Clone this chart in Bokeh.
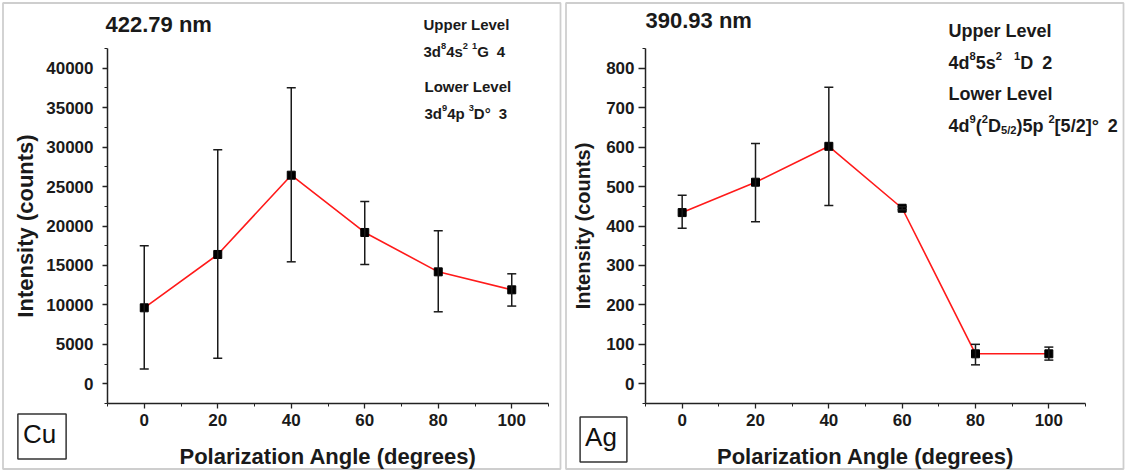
from bokeh.plotting import figure
from bokeh.models import (ColumnDataSource, Whisker, Label, TeeHead, Range1d,
                          SingleIntervalTicker, LinearAxis, BoxAnnotation)
from bokeh.layouts import row
from bokeh.embed import file_html
from bokeh.resources import INLINE

# ---------------- data ----------------
angles = [0, 20, 40, 60, 80, 100]

cu_intensity = [9630, 16390, 26440, 19180, 14190, 11910]
cu_lower = [1860, 3250, 15460, 15120, 9125, 9850]
cu_upper = [17490, 29650, 37510, 23100, 19390, 13940]

ag_intensity = [434, 511, 602, 445, 76, 76]
ag_lower = [394, 411, 452, 441, 48, 60]
ag_upper = [478, 609, 752, 449, 100, 93]

x_label = "Polarization Angle (degrees)"
y_label = "Intensity (counts)"

FONT = "Liberation Sans"
H = 472
W = 563
AX_TOP = 48       # page px of top of the y axis
AX_BOTTOM = 403   # page px of the x axis

# Arial-bold advance widths (em)
AW = {"0": .556, "1": .556, "2": .556, "3": .556, "4": .556, "5": .556, "6": .556,
      "7": .556, "8": .556, "9": .556, "d": .611, "s": .556, "p": .611, "G": .778,
      "D": .722, " ": .278, "(": .333, ")": .333, "[": .333, "]": .333, "/": .278,
      "°": .4, "U": .722, "e": .556, "r": .389, "L": .611, "v": .556, "l": .278,
      "o": .611, "w": .778}


def tw(s, size):
    return sum(AW.get(c, .556) for c in s) * size


class Panel:
    def __init__(self, page_left, ax_left, ax_right, x0, x1, y0, y1, y_interval,
                 intensity, lower, upper, ytick_out, ytick_standoff, ylab_size, ylab_standoff):
        self.pl = page_left
        self.kx = (ax_right - ax_left) / (x1 - x0)
        self.ax_left = ax_left
        self.x0 = x0
        self.ky = (AX_BOTTOM - AX_TOP) / (y1 - y0)
        self.y0 = y0
        xs, xe = self.dx(page_left), self.dx(page_left + W)
        ye, ys = self.dy(0), self.dy(H)
        p = figure(width=W, height=H, x_range=Range1d(xs, xe), y_range=Range1d(ys, ye),
                   output_backend="svg", toolbar_location=None,
                   x_axis_type=None, y_axis_type=None,
                   min_border_left=0, min_border_right=0, min_border_top=0, min_border_bottom=0)
        self.p = p
        p.outline_line_color = None
        p.xgrid.visible = False
        p.ygrid.visible = False
        p.background_fill_color = "white"
        p.border_fill_color = "white"

        xa = LinearAxis(fixed_location=y0, bounds=(x0, x1),
                        ticker=SingleIntervalTicker(interval=20, num_minor_ticks=2),
                        axis_label=x_label)
        ya = LinearAxis(fixed_location=x0, bounds=(y0, y1),
                        ticker=SingleIntervalTicker(interval=y_interval, num_minor_ticks=2),
                        axis_label=y_label)
        for ax in (xa, ya):
            ax.axis_line_color = "#222222"
            ax.axis_line_width = 1.5
            ax.major_tick_line_color = "#222222"
            ax.minor_tick_line_color = "#222222"
            ax.major_tick_line_width = 1.3
            ax.minor_tick_line_width = 1.0
            ax.major_tick_in = 0
            ax.minor_tick_in = 0
            ax.minor_tick_out = 3
            ax.major_label_text_font = FONT
            ax.major_label_text_font_style = "bold"
            ax.major_label_text_font_size = "17px"
            ax.major_label_text_color = "#1a1a1a"
            ax.axis_label_text_font = FONT
            ax.axis_label_text_font_style = "bold"
            ax.axis_label_text_color = "#1a1a1a"
        xa.major_tick_out = 5
        xa.major_label_standoff = 5
        xa.axis_label_text_font_size = "22px"
        xa.axis_label_standoff = 15
        ya.major_tick_out = ytick_out
        ya.major_label_standoff = ytick_standoff
        ya.axis_label_text_font_size = f"{ylab_size}px"
        ya.axis_label_standoff = ylab_standoff
        p.add_layout(xa, "below")
        p.add_layout(ya, "left")

        # panel border
        p.add_layout(BoxAnnotation(left=self.dx(page_left + 2.5), right=self.dx(page_left + W - 3),
                                   top=self.dy(2.5), bottom=self.dy(H - 3.5),
                                   fill_color=None, line_color="#5e5e5e", line_width=1.8,
                                   level="underlay"))

        src = ColumnDataSource(dict(x=angles, y=intensity, lo=lower, hi=upper))
        w = Whisker(source=src, base="x", upper="hi", lower="lo", level="glyph",
                    line_color="#1a1a1a", line_width=1.5,
                    upper_head=TeeHead(size=9, line_color="#1a1a1a", line_width=1.5),
                    lower_head=TeeHead(size=9, line_color="#1a1a1a", line_width=1.5))
        p.add_layout(w)
        p.line("x", "y", source=src, line_color="#ff1a1a", line_width=1.6)
        p.scatter("x", "y", source=src, marker="square", size=8, fill_color="black",
                  line_color="black")

    # page px -> data
    def dx(self, px):
        return self.x0 + (px - self.ax_left) / self.kx

    def dy(self, py):
        return self.y0 + (AX_BOTTOM - py) / self.ky

    def text(self, px, py, segs, base, color="#1a1a1a"):
        x = px
        for txt, kind in segs:
            if txt == "gap":
                x += kind
                continue
            size = base * 0.62 if kind in ("sup", "sub") else base
            off = {"n": 0.0, "sup": -0.36 * base, "sub": 0.26 * base}[kind]
            self.p.add_layout(Label(x=self.dx(x), y=self.dy(py + off), text=txt,
                                    text_font=FONT, text_font_size=f"{size:.1f}px",
                                    text_font_style="bold", text_align="left",
                                    text_baseline="middle", text_color=color))
            x += tw(txt, size)

    def box(self, cx, cy, txt):
        self.p.add_layout(Label(x=self.dx(cx), y=self.dy(cy), text=txt, text_font=FONT,
                                text_font_size="26px", text_align="center",
                                text_baseline="middle", text_color="#111111",
                                border_line_color="#333333", border_line_width=1.5,
                                background_fill_color="white", padding=(5, 10, 5, 10)))


# ---------- left panel (Cu) ----------
left = Panel(0, 107, 548, -10, 110, -2500, 42500, 5000,
             cu_intensity, cu_lower, cu_upper, 5, 9, 22, 5)
left.text(105, 24, [("422.79 nm", "n")], 22)
left.text(423, 24, [("Upper Level", "n")], 15)
left.text(423, 51, [("3d", "n"), ("8", "sup"), ("4s", "n"), ("2", "sup"), ("gap", 4),
                    ("1", "sup"), ("G", "n"), ("gap", 8), ("4", "n")], 15)
left.text(424, 86, [("Lower Level", "n")], 15)
left.text(424, 113, [("3d", "n"), ("9", "sup"), ("4p", "n"), ("gap", 4), ("3", "sup"),
                     ("D°", "n"), ("gap", 8), ("3", "n")], 15)
left.box(41.5, 436, "Cu")

# ---------- right panel (Ag) ----------
right = Panel(563, 645, 1085, -10, 110, -50, 850, 100,
              ag_intensity, ag_lower, ag_upper, 7, 4, 20, 9)
right.text(645, 20, [("390.93 nm", "n")], 22)
right.text(948, 30, [("Upper Level", "n")], 18)
right.text(948, 62, [("4d", "n"), ("8", "sup"), ("5s", "n"), ("2", "sup"), ("gap", 12),
                     ("1", "sup"), ("D", "n"), ("gap", 9), ("2", "n")], 18)
right.text(948, 93, [("Lower Level", "n")], 18)
right.text(948, 125, [("4d", "n"), ("9", "sup"), ("(", "n"), ("2", "sup"), ("D", "n"),
                      ("5/2", "sub"), (")5p", "n"), ("gap", 5), ("2", "sup"),
                      ("[5/2]°", "n"), ("gap", 9), ("2", "n")], 18)
right.box(603, 439, "Ag")

layout = row(left.p, right.p, spacing=0)
open("out.html", "w").write(file_html(layout, INLINE))
